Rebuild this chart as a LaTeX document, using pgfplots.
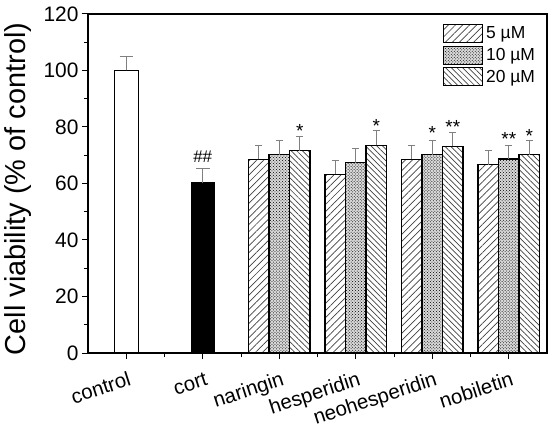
\documentclass[border=0pt]{standalone}
\usepackage{fontspec}
\setmainfont{Liberation Sans}
\usepackage{pgfplots}
\pgfplotsset{compat=1.18}
\usetikzlibrary{patterns,patterns.meta}

\pgfplotstableread{
x y e
0 100 5.1
}\ctrl
\pgfplotstableread{
x y e
1 60.2 5.1
}\cort
\pgfplotstableread{
x y e
1.732 68.5 4.9
2.732 63.3 4.9
3.732 68.5 4.9
4.732 66.7 4.9
}\five
\pgfplotstableread{
x y e
2 70.2 5.0
3 67.4 5.0
4 70.2 5.0
5 68.7 4.9
}\ten
\pgfplotstableread{
x y e
2.268 71.6 5.1
3.268 73.5 5.1
4.268 73.2 4.8
5.268 70.2 5.1
}\twenty

\begin{document}
\begin{tikzpicture}
\begin{axis}[
  name=ax,
  scale only axis, width=459bp, height=339bp,
  xmin=-0.5, xmax=5.5, ymin=0, ymax=120,
  axis line style={line width=1.2bp},
  xtick={0,1,2,3,4,5},
  xticklabels={control,cort,naringin,hesperidin,neohesperidin,nobiletin},
  minor xtick={0.5,1.5,2.5,3.5,4.5},
  ytick={0,20,...,120}, minor ytick={10,30,...,110},
  tick align=outside, xtick pos=bottom, ytick pos=left,
  major tick length=6bp, minor tick length=4bp,
  every tick/.style={black, line width=1bp},
  ticklabel style={font=\fontsize{20.5}{24}\selectfont},
  yticklabel style={font=\fontsize{21}{24}\selectfont},
  /pgf/number format/assume math mode=true,
  xticklabel style={xshift=6bp, yshift=-26bp, rotate=18, anchor=base east, inner sep=0pt},
  ylabel={Cell viability (\% of control)},
  every axis y label/.style={at={(rel axis cs:0,0.5)}, xshift=-62bp, yshift=-5.5bp, rotate=90, anchor=base, font=\fontsize{29}{34}\selectfont},
  legend style={at={(axis description cs:0.7734,0.9705)}, anchor=north west, draw=none, fill=none,
    font=\fontsize{17.5}{20}\selectfont, inner sep=0pt, row sep=2.5bp, nodes={inner sep=0pt},
    /tikz/every odd column/.append style={column sep=3bp}},
  legend cell align=left,
  legend image code/.code={\draw[#1, draw=black, line width=1bp] (0bp,-9bp) rectangle (39bp,9bp);},
  error bars/y dir=plus, error bars/y explicit,
  error bars/error bar style={gray, line width=1bp},
]
\addplot[ybar, bar width=0.31, bar shift=0pt, fill=white, draw=black, line width=1.2bp,
  error bars/error mark options={rotate=90, mark size=6.5bp, gray, line width=1bp}, forget plot]
  table[x=x, y=y, y error=e]{\ctrl};
\addplot[ybar, bar width=0.30, bar shift=0pt, fill=black, draw=black, line width=1.2bp,
  error bars/error mark options={rotate=90, mark size=7bp, gray, line width=1bp}, forget plot]
  table[x=x, y=y, y error=e]{\cort};
\addplot[ybar, bar width=0.268, bar shift=0pt, draw=black, line width=1.2bp,
  pattern={Lines[angle=45, distance=5bp, line width=0.7bp]}, pattern color=darkgray,
  error bars/error mark options={rotate=90, mark size=3.5bp, gray, line width=1bp}]
  table[x=x, y=y, y error=e]{\five};
\addlegendentry{5 µM}
\addplot[ybar, bar width=0.268, bar shift=0pt, draw=black, line width=1.2bp,
  fill=gray!30, postaction={pattern=crosshatch dots, pattern color=black},
  error bars/error mark options={rotate=90, mark size=3.5bp, gray, line width=1bp}]
  table[x=x, y=y, y error=e]{\ten};
\addlegendentry{10 µM}
\addplot[ybar, bar width=0.268, bar shift=0pt, draw=black, line width=1.2bp,
  pattern={Lines[angle=-45, distance=4bp, line width=0.7bp]}, pattern color=darkgray,
  error bars/error mark options={rotate=90, mark size=3.5bp, gray, line width=1bp}]
  table[x=x, y=y, y error=e]{\twenty};
\addlegendentry{20 µM}
\begin{scope}[every node/.style={font=\fontsize{19}{20}\selectfont, anchor=base, inner sep=0pt}]
\node[font=\fontsize{17}{20}\selectfont] at (axis cs:1,67.3) {\#\#};
\node at (axis cs:2.268,76.2) {*};
\node at (axis cs:3.268,78.0) {*};
\node at (axis cs:4,75.6) {*};
\node at (axis cs:4.268,77.6) {**};
\node at (axis cs:5,73.3) {**};
\node at (axis cs:5.268,74.4) {*};
\end{scope}
\end{axis}
\pgfresetboundingbox
\path[use as bounding box] ([shift={(-88bp,-78bp)}]ax.south west) rectangle ([shift={(462bp,353bp)}]ax.south west);
\end{tikzpicture}
\end{document}
